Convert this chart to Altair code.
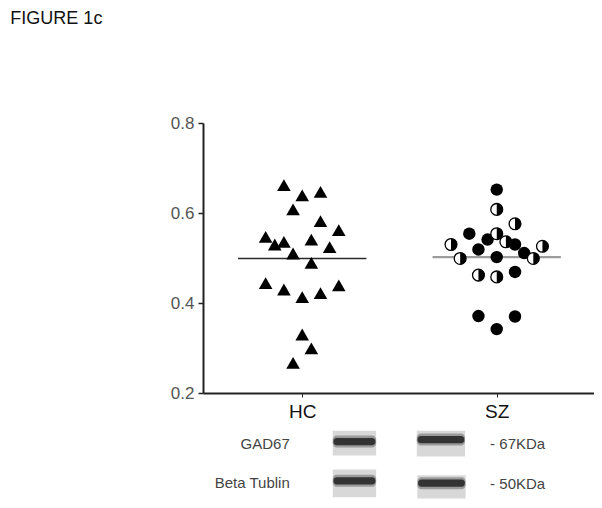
import altair as alt
import pandas as pd

FONT = "Liberation Sans"

# ---- scatter data ----
hc_values = [0.662, 0.639, 0.647, 0.608, 0.582, 0.562, 0.547, 0.530, 0.536, 0.541, 0.524,
             0.510, 0.489, 0.444, 0.430, 0.413, 0.422, 0.439, 0.330, 0.299, 0.267]
hc_steps = [-2, 0, 2, -1, 2, 4, -4, -3, -2, 1, 3, -1, 1, -4, -2, 0, 2, 4, 0, 1, -1]

sz_values = [0.652, 0.608, 0.576, 0.554, 0.554, 0.541, 0.536, 0.530, 0.530, 0.526, 0.519,
             0.511, 0.499, 0.502, 0.499, 0.469, 0.462, 0.458, 0.371, 0.370, 0.342]
sz_steps = [0, 0, 2, -3, 0, -1, 1, 2, -5, 5, -2, 3, -4, 0, 4, 2, -2, 0, -2, 2, 0]
sz_kind = ["filled", "half", "half", "filled", "half", "filled", "half", "filled", "half", "half",
           "filled", "filled", "half", "filled", "half", "filled", "half", "half", "filled",
           "filled", "filled"]

groups = ["HC", "SZ"]
group_pos = [1, 2]
means = [0.499, 0.502]

# ---- blot data ----
blot_rows = ["GAD67", "GAD67", "Beta Tublin", "Beta Tublin"]
blot_lane = ["HC", "SZ", "HC", "SZ"]
blot_x0 = [1.157, 1.589, 1.157, 1.592]
blot_x1 = [1.380, 1.837, 1.380, 1.840]
blot_y0 = [0.17, 0.17, 1.14, 1.28]
blot_y1 = [0.79, 0.81, 1.83, 1.86]
band_y = [0.44, 0.39, 1.42, 1.48]
row_names = ["GAD67", "Beta Tublin"]
row_y = [0.5, 1.48]
kda_labels = ["- 67KDa", "- 50KDa"]
kda_y = [0.5, 1.5]

STEP = 0.047
XDOM = [0.49, 2.5]
W, H = 391, 270

hc = pd.DataFrame({"value": hc_values, "x": [1 + s * STEP for s in hc_steps]})
sz = pd.DataFrame({"value": sz_values, "x": [2 + s * STEP for s in sz_steps], "kind": sz_kind})
mean_df = pd.DataFrame({"group": groups, "x0": [p - 0.33 for p in group_pos],
                        "x1": [p + 0.33 for p in group_pos], "mean": means})

xscale = alt.Scale(domain=XDOM, nice=False, zero=False)
yscale = alt.Scale(domain=[0.2, 0.8], nice=False, zero=False)

xaxis = alt.Axis(values=group_pos, labelExpr="datum.value == 1 ? 'HC' : 'SZ'", title=None,
                 grid=False, domainColor="#222", domainWidth=2, tickColor="#222", tickSize=4,
                 tickWidth=1, labelFont=FONT, labelFontSize=19, labelColor="#111",
                 labelPadding=5, labelFontWeight="normal")
yaxis = alt.Axis(values=[0.2, 0.4, 0.6, 0.8], format=".1f", title=None, grid=False,
                 domainColor="#222", domainWidth=2, tickColor="#222", tickSize=5, tickWidth=1.5,
                 labelFont=FONT, labelFontSize=17, labelColor="#555", labelPadding=4)

base_x = alt.X("x:Q", scale=xscale, axis=xaxis)
base_y = alt.Y("value:Q", scale=yscale, axis=yaxis)

tri = alt.Chart(hc).mark_point(shape="triangle-up", filled=True, color="#000", size=185,
                               opacity=1).encode(x=base_x, y=base_y)

filled = alt.Chart(sz).transform_filter("datum.kind == 'filled'").mark_point(
    shape="circle", filled=True, color="#000", size=155, opacity=1).encode(x="x:Q", y="value:Q")
half_bg = alt.Chart(sz).transform_filter("datum.kind == 'half'").mark_point(
    shape="circle", filled=True, fill="#fff", stroke="#000", strokeWidth=1.3, size=140,
    opacity=1).encode(x="x:Q", y="value:Q")
half_fg = alt.Chart(sz).transform_filter("datum.kind == 'half'").mark_point(
    shape="M0,-1A1,1,0,0,1,0,1Z", filled=True, color="#000", size=140,
    opacity=1).encode(x="x:Q", y="value:Q")

mean_hc = alt.Chart(mean_df).transform_filter("datum.group == 'HC'").mark_rule(
    strokeWidth=1.6, color="#2a2a2a").encode(x="x0:Q", x2="x1:Q", y="mean:Q")
mean_sz = alt.Chart(mean_df).transform_filter("datum.group == 'SZ'").mark_rule(
    strokeWidth=2.2, color="#9c9c9c").encode(x="x0:Q", x2="x1:Q", y="mean:Q")

top = alt.layer(mean_hc, mean_sz, tri, filled, half_bg, half_fg).properties(width=W, height=H)

# ---- blot panel ----
blot = pd.DataFrame({"row": blot_rows, "lane": blot_lane, "x0": blot_x0, "x1": blot_x1,
                     "y0": blot_y0, "y1": blot_y1, "band": band_y})
bx = alt.Scale(domain=XDOM, nice=False, zero=False)
by = alt.Scale(domain=[0, 2], nice=False, zero=False, reverse=True)

boxes = alt.Chart(blot).mark_rect(color="#d8d8d8").encode(
    x=alt.X("x0:Q", scale=bx, axis=None), x2="x1:Q",
    y=alt.Y("y0:Q", scale=by, axis=None), y2="y1:Q")
band_outer = alt.Chart(blot).transform_calculate(
    b0="datum.band - 0.15", b1="datum.band + 0.15").mark_rect(
    color="#9a9a9a", cornerRadius=4).encode(x="x0:Q", x2="x1:Q", y="b0:Q", y2="b1:Q")
band_inner = alt.Chart(blot).transform_calculate(
    b0="datum.band - 0.09", b1="datum.band + 0.09", xa="datum.x0 + 0.004",
    xb="datum.x1 - 0.004").mark_rect(
    color="#333333", cornerRadius=3).encode(x="xa:Q", x2="xb:Q", y="b0:Q", y2="b1:Q")

rows_df = pd.DataFrame({"name": row_names, "y": row_y, "x": [0.936, 0.936]})
row_text = alt.Chart(rows_df).mark_text(align="right", baseline="middle", font=FONT,
                                        fontSize=15, color="#444").encode(
    x="x:Q", y="y:Q", text="name:N")
kda_df = pd.DataFrame({"name": kda_labels, "y": kda_y, "x": [1.966, 1.966]})
kda_text = alt.Chart(kda_df).mark_text(align="left", baseline="middle", font=FONT,
                                       fontSize=15, color="#444").encode(
    x="x:Q", y="y:Q", text="name:N")

bottom = alt.layer(boxes, band_outer, band_inner, row_text, kda_text).properties(
    width=W, height=80)

chart = alt.vconcat(top, bottom, spacing=3).resolve_scale(x="independent", y="independent").properties(
    title=alt.TitleParams("FIGURE 1c", anchor="start", font=FONT, fontSize=18,
                          fontWeight="normal", color="#111", dx=-160, offset=86),
    padding={"left": 2, "top": 2, "right": 0, "bottom": 0},
).configure_view(strokeWidth=0, stroke=None)

chart.save("out.html", embed_options={"renderer": "svg", "actions": False})
